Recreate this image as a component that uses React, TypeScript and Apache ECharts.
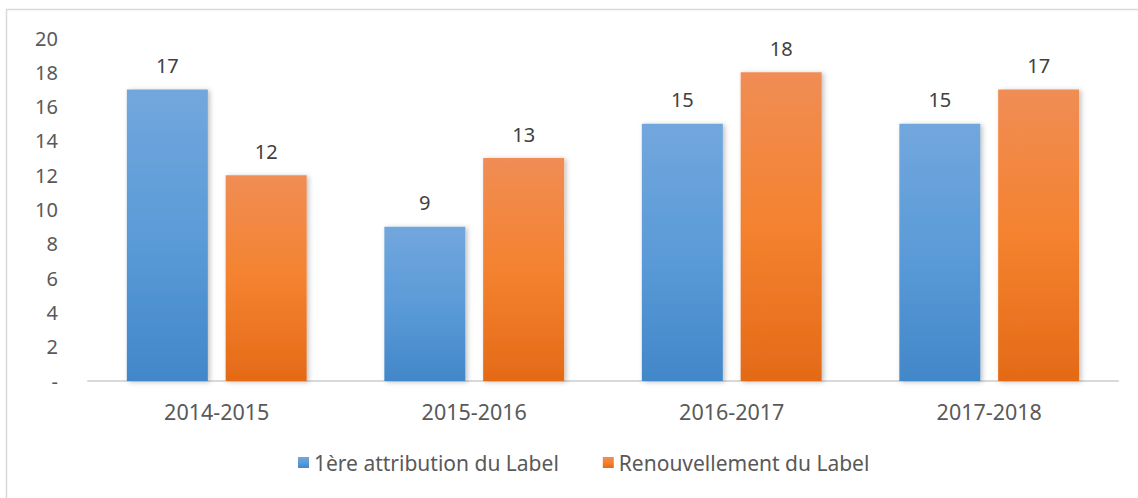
import React, { useEffect, useRef } from "react";
import * as echarts from "echarts";

const categories = ["2014-2015", "2015-2016", "2016-2017", "2017-2018"];
const firstAttribution = [17, 9, 15, 15];
const renewal = [12, 13, 18, 17];
const seriesNames = ["1ère attribution du Label", "Renouvellement du Label"];

const FONT = "'Noto Sans', 'Open Sans', sans-serif";

export default function App() {
  const ref = useRef<HTMLDivElement>(null);
  useEffect(() => {
    if (!ref.current) return;
    const chart = echarts.init(ref.current, null, { renderer: "svg" });
    const blue = new echarts.graphic.LinearGradient(0, 0, 0, 1, [
      { offset: 0, color: "#72A7DD" },
      { offset: 0.5, color: "#5B9BD8" },
      { offset: 1, color: "#4287C9" },
    ]);
    const orange = new echarts.graphic.LinearGradient(0, 0, 0, 1, [
      { offset: 0, color: "#F08D55" },
      { offset: 0.5, color: "#F4822F" },
      { offset: 1, color: "#E46A17" },
    ]);
    const labelStyle = {
      show: true,
      position: "top" as const,
      distance: 14,
      fontFamily: FONT,
      fontSize: 20,
      color: "#404040",
    };
    chart.setOption({
      animation: false,
      backgroundColor: "#ffffff",
      graphic: [
        {
          type: "rect",
          shape: { x: 6.5, y: 9.5, width: 1150, height: 510 },
          style: { fill: "none", stroke: "#D9D9D9", lineWidth: 1.5 },
          silent: true,
        },
      ],
      grid: { left: 88, right: 20, top: 38, bottom: 117 },
      legend: {
        bottom: 20,
        left: 293,
        itemWidth: 11,
        itemHeight: 11,
        itemGap: 44,
        icon: "rect",
        textStyle: { fontFamily: FONT, fontSize: 21, color: "#595959" },
        data: seriesNames,
      },
      xAxis: {
        type: "category",
        data: categories,
        axisLine: { show: true, lineStyle: { color: "#D9D9D9", width: 2 } },
        axisTick: { show: false },
        axisLabel: {
          fontFamily: FONT,
          fontSize: 21.5,
          color: "#595959",
          margin: 19,
        },
      },
      yAxis: {
        type: "value",
        min: 0,
        max: 20,
        interval: 2,
        axisLine: { show: false },
        axisTick: { show: false },
        splitLine: { show: false },
        axisLabel: {
          fontFamily: FONT,
          fontSize: 20,
          color: "#595959",
          margin: 30,
          formatter: (v: number) => (v === 0 ? "-" : String(v)),
        },
      },
      series: [
        {
          name: seriesNames[0],
          type: "bar",
          data: firstAttribution,
          barWidth: 81,
          barGap: "22%",
          itemStyle: {
            color: blue,
            shadowBlur: 5,
            shadowColor: "rgba(0,0,0,0.25)",
            shadowOffsetX: 2,
            shadowOffsetY: 1,
          },
          label: labelStyle,
        },
        {
          name: seriesNames[1],
          type: "bar",
          data: renewal,
          barWidth: 81,
          itemStyle: {
            color: orange,
            shadowBlur: 5,
            shadowColor: "rgba(0,0,0,0.25)",
            shadowOffsetX: 2,
            shadowOffsetY: 1,
          },
          label: labelStyle,
        },
      ],
    });
    return () => chart.dispose();
  }, []);
  return (
    <div
      ref={ref}
      style={{ position: "fixed", left: 0, top: 0, width: 1138, height: 498 }}
    />
  );
}
